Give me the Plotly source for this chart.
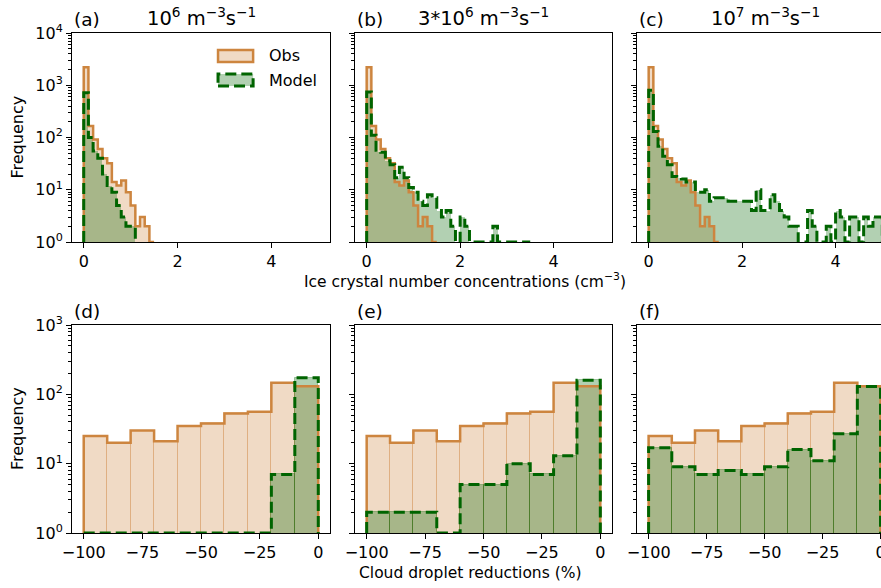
import numpy as np
import plotly.graph_objects as go

# histogram bins
ice_bin_width = 0.1          # cm-3
cdr_bin_width = 10           # %
cdr_start = -100

# ice crystal number concentration counts per 0.1 cm-3 bin, starting at 0
obs_ice = [2200, 166, 92, 60, 40, 32, 14, 12, 15, 9, 5, 2, 3, 2, 1]
model_ice_1e6 = [720, 100, 55, 40, 20, 12, 9, 5, 3, 2, 2]
model_ice_3e6 = [740, 110, 53, 52, 36, 30, 17, 27, 17, 11, 9, 6, 5, 8, 7, 4, 3, 4,
                 2, 1, 3, 2, 1, 0, 0, 0, 0, 2, 1, 0, 0, 0, 0, 0, 1]
model_ice_1e7 = [800, 130, 68, 44, 30, 18, 17, 16, 14, 14, 9, 9, 10, 6, 7, 7, 7, 6,
                 6, 6, 6, 6, 4, 10, 4, 4, 8, 6, 4, 3, 2, 2, 1, 1, 4, 2, 1, 1, 2, 1,
                 4, 3, 1, 3, 3, 1, 3, 2, 3, 3]

# cloud droplet reduction counts per 10 % bin, from -100 to 0
obs_cdr = [25, 20, 30, 21, 35, 38, 53, 56, 147, 131]
model_cdr_1e6 = [0, 0, 0, 0, 0, 0, 0, 0, 7, 173]
model_cdr_3e6 = [2, 2, 2, 0, 5, 5, 10, 7, 13, 160]
model_cdr_1e7 = [17, 9, 7, 8, 7, 9, 16, 11, 27, 130]

panel_letters = ["(a)", "(b)", "(c)", "(d)", "(e)", "(f)"]
rate_titles = ["10<sup>6</sup> m<sup>−3</sup>s<sup>−1</sup>",
               "3*10<sup>6</sup> m<sup>−3</sup>s<sup>−1</sup>",
               "10<sup>7</sup> m<sup>−3</sup>s<sup>−1</sup>"]
top_yticks = [1, 10, 100, 1000, 10000]
top_yticktext = ["10<sup>0</sup>", "10<sup>1</sup>", "10<sup>2</sup>", "10<sup>3</sup>", "10<sup>4</sup>"]
bot_yticks = [1, 10, 100, 1000]
bot_yticktext = ["10<sup>0</sup>", "10<sup>1</sup>", "10<sup>2</sup>", "10<sup>3</sup>"]
top_xticks = [0, 2, 4]
bot_xticks = [-100, -75, -50, -25, 0]

W, H = 881, 588
FONT = "DejaVu Sans"
OBS_LINE = "#cd853f"
OBS_FILL = "rgba(205,133,63,0.3)"
MOD_LINE = "#006400"
MOD_FILL = "rgba(0,100,0,0.3)"
DASH = "11px,5px"

# panel frames in pixels (left, right, top, bottom)
cols_px = [(72, 330), (355, 612), (637, 894)]
rows_px = [(33, 242), (325, 533)]


def step_xy(edges, counts):
    c = np.maximum(np.asarray(counts, float), 1)  # empty bins sit on the axis floor
    x = np.repeat(edges, 2)
    y = np.concatenate([[1], np.repeat(c, 2), [1]])
    return x, y


fig = go.Figure()

panels = []
for m in [model_ice_1e6, model_ice_3e6, model_ice_1e7]:
    panels.append(("ice", obs_ice, m))
for m in [model_cdr_1e6, model_cdr_3e6, model_cdr_1e7]:
    panels.append(("cdr", obs_cdr, m))

for k, (kind, obs, mod) in enumerate(panels):
    xa = "x" if k == 0 else "x%d" % (k + 1)
    ya = "y" if k == 0 else "y%d" % (k + 1)
    if kind == "ice":
        bw, start, edge_w = ice_bin_width, 0.0, 0
    else:
        bw, start, edge_w = cdr_bin_width, cdr_start, 1
    for counts, fill, line, dash, lw in [(obs, OBS_FILL, OBS_LINE, "solid", 2.5),
                                        (mod, MOD_FILL, MOD_LINE, DASH, 3)]:
        n = len(counts)
        edges = start + bw * np.arange(n + 1)
        centers = edges[:-1] + bw / 2
        yb = [c if c > 0 else None for c in counts]
        fig.add_trace(go.Bar(x=centers, y=yb, width=bw, xaxis=xa, yaxis=ya,
                             marker=dict(color=fill, line=dict(color=fill, width=edge_w)),
                             showlegend=False, hoverinfo="skip"))
        sx, sy = step_xy(edges, counts)
        fig.add_trace(go.Scatter(x=sx, y=sy, mode="lines", xaxis=xa, yaxis=ya,
                                 line=dict(color=line, width=lw, dash=dash),
                                 showlegend=False, hoverinfo="skip"))

layout = dict(width=W, height=H, margin=dict(l=0, r=0, t=0, b=0, autoexpand=False),
              paper_bgcolor="white", plot_bgcolor="white", barmode="overlay",
              bargap=0, showlegend=False,
              font=dict(family=FONT, size=15, color="black"))

for k in range(6):
    r, c = divmod(k, 3)
    sfx = "" if k == 0 else str(k + 1)
    l, rr = cols_px[c]
    t, b = rows_px[r]
    x0, x1 = l / W, min(rr / W, 1.0)
    if r == 0:
        full = [-0.25, 5.25]
        ticks = top_xticks
        yr = [0, 4]
        yt, ytt = top_yticks, top_yticktext
        ndec = 4
    else:
        full = [-105, 5]
        ticks = bot_xticks
        yr = [0, 3]
        yt, ytt = bot_yticks, bot_yticktext
        ndec = 3
    # right column runs off the page edge: keep the same scale, cut the range
    if rr > W:
        scale = (full[1] - full[0]) / (rr - l)
        xrng = [full[0], full[0] + (W - l) * scale]
        if r == 1:
            xrng[1] = 0.2
    else:
        xrng = full
    minor_vals = [m * 10 ** d for d in range(ndec) for m in range(2, 10)]
    layout["xaxis" + sfx] = dict(domain=[x0, x1], range=xrng, anchor="y" + sfx,
                                 automargin=False, ticklabeloverflow="allow",
                                 tickvals=ticks, ticks="outside", ticklen=5, tickwidth=1,
                                 tickcolor="black", showline=True, linecolor="black",
                                 linewidth=1, mirror=True, showgrid=False, zeroline=False,
                                 tickfont=dict(size=16))
    layout["yaxis" + sfx] = dict(domain=[1 - b / H, 1 - t / H], type="log", range=yr,
                                 anchor="x" + sfx, automargin=False,
                                 tickvals=yt, ticktext=ytt,
                                 showticklabels=(c == 0), ticks="outside", ticklen=5,
                                 tickwidth=1, tickcolor="black", showline=True,
                                 linecolor="black", linewidth=1, mirror=(rr <= W),
                                 showgrid=False, zeroline=False, tickfont=dict(size=16),
                                 minor=dict(tickvals=minor_vals, ticks="outside", ticklen=3,
                                            tickwidth=0.8, tickcolor="black"))

fig.update_layout(**layout)

ann = []
for k in range(6):
    r, c = divmod(k, 3)
    xd = ("x" if k == 0 else "x%d" % (k + 1)) + " domain"
    yd = ("y" if k == 0 else "y%d" % (k + 1)) + " domain"
    ann.append(dict(text=panel_letters[k], xref=xd, yref=yd, x=0, y=1, xanchor="left",
                    yanchor="bottom", yshift=1, showarrow=False, font=dict(size=18.5)))
    if r == 0:
        l, rr = cols_px[c]
        ann.append(dict(text=rate_titles[c], xref="paper", yref=yd,
                        x=(l + rr) / 2 / W, y=1, xanchor="center", yanchor="bottom",
                        yshift=1, showarrow=False, font=dict(size=19.5)))

for t, b in rows_px:
    ann.append(dict(text="Frequency", xref="paper", yref="paper", x=17 / W,
                    y=1 - (t + b) / 2 / H, textangle=-90, showarrow=False,
                    xanchor="center", yanchor="middle", font=dict(size=16)))
ann.append(dict(text="Ice crystal number concentrations (cm<sup>−3</sup>)", xref="paper",
                yref="paper", x=465 / W, y=1 - 280 / H, showarrow=False,
                xanchor="center", yanchor="middle", font=dict(size=15.5)))
ann.append(dict(text="Cloud droplet reductions (%)", xref="paper", yref="paper",
                x=470 / W, y=1 - 573 / H, showarrow=False, xanchor="center",
                yanchor="middle", font=dict(size=15.5)))

# legend in panel (a)
shapes = [
    dict(type="rect", xref="x domain", yref="y domain", x0=0.566, x1=0.702, y0=0.861,
         y1=0.919, fillcolor=OBS_FILL, line=dict(color=OBS_LINE, width=2.5)),
    dict(type="rect", xref="x domain", yref="y domain", x0=0.566, x1=0.702, y0=0.746,
         y1=0.804, fillcolor=MOD_FILL, line=dict(color=MOD_LINE, width=3, dash=DASH)),
]
ann.append(dict(text="Obs", xref="x domain", yref="y domain", x=0.756, y=0.89,
                xanchor="left", yanchor="middle", showarrow=False, font=dict(size=16)))
ann.append(dict(text="Model", xref="x domain", yref="y domain", x=0.756, y=0.775,
                xanchor="left", yanchor="middle", showarrow=False, font=dict(size=16)))

fig.update_layout(annotations=ann, shapes=shapes)
# no page margin around the figure, no toolbar
fig.write_html("out.html", config={"displayModeBar": False},
               post_script="document.body.style.margin='0';")
